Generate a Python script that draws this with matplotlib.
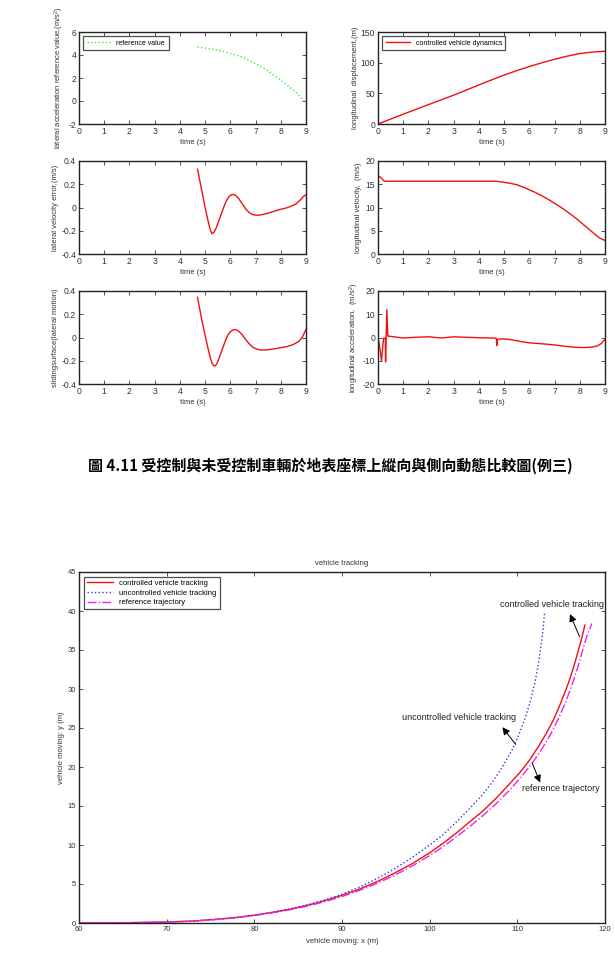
import numpy as np
import matplotlib
matplotlib.use('Agg')
import matplotlib.pyplot as plt

plt.rcParams['font.family'] = ['Liberation Sans', 'DejaVu Sans']
plt.rcParams['mathtext.default'] = 'regular'
plt.rcParams['axes.unicode_minus'] = False

# ---- data ----
t_ayref = [4.7, 5.0, 5.25, 5.5, 5.75, 6.0, 6.25, 6.5, 6.75, 7.0, 7.25, 7.5,
           7.75, 8.0, 8.25, 8.5, 8.75, 9.0]
ay_ref = [4.7, 4.6, 4.52, 4.42, 4.29, 4.13, 3.97, 3.78, 3.54, 3.26, 2.95, 2.6,
          2.22, 1.8, 1.39, 0.95, 0.4, -0.2]

t_xdisp = [0, 0.5, 1, 1.5, 2, 2.5, 3, 3.5, 4, 4.5, 5, 5.5, 6, 6.5, 7, 7.5, 8, 8.5, 9]
x_disp = [0, 8, 16, 23.8, 31.6, 39.3, 47, 55.3, 63.7, 71.8, 79.8, 87, 93.7,
          99.8, 105.5, 110.6, 114.8, 117.3, 118.6]

t_verr = [4.7, 4.8, 4.9, 5.0, 5.1, 5.2, 5.27, 5.35, 5.45, 5.55, 5.65, 5.75,
          5.85, 5.95, 6.05, 6.12, 6.2, 6.3, 6.45, 6.6, 6.75, 6.9, 7.05, 7.2,
          7.4, 7.6, 7.8, 8.0, 8.2, 8.4, 8.6, 8.8, 8.9, 9.0]
v_err = [0.33, 0.22, 0.11, 0.0, -0.1, -0.19, -0.225, -0.215, -0.17, -0.11,
         -0.05, 0.01, 0.06, 0.095, 0.11, 0.112, 0.105, 0.085, 0.04, -0.01,
         -0.045, -0.062, -0.067, -0.064, -0.055, -0.042, -0.028, -0.015,
         -0.005, 0.01, 0.03, 0.07, 0.095, 0.11]

t_vx = [0, 0.1, 0.2, 0.25, 0.3, 4.7, 5.0, 5.25, 5.5, 5.75, 6.0, 6.25, 6.5,
        6.75, 7.0, 7.25, 7.5, 7.75, 8.0, 8.25, 8.5, 8.65, 8.8, 9.0]
v_x = [16.8, 16.5, 15.9, 15.7, 15.64, 15.64, 15.4, 15.2, 14.9, 14.4, 13.8,
       13.2, 12.5, 11.75, 10.9, 10.05, 9.1, 8.1, 7.0, 5.85, 4.7, 4.0, 3.4, 2.9]

t_slide = [4.7, 4.8, 4.9, 5.0, 5.1, 5.2, 5.28, 5.35, 5.42, 5.5, 5.6, 5.7,
           5.8, 5.9, 6.0, 6.1, 6.2, 6.3, 6.45, 6.6, 6.75, 6.9, 7.05, 7.2,
           7.35, 7.5, 7.75, 8.0, 8.25, 8.5, 8.7, 8.85, 9.0]
s_slide = [0.345, 0.23, 0.12, 0.02, -0.08, -0.17, -0.225, -0.245, -0.24,
           -0.21, -0.15, -0.09, -0.03, 0.02, 0.05, 0.065, 0.068, 0.06, 0.03,
           -0.015, -0.055, -0.085, -0.1, -0.107, -0.108, -0.105, -0.097,
           -0.088, -0.078, -0.06, -0.035, 0.0, 0.07]

t_ax = [0, 0.05, 0.14, 0.22, 0.29, 0.30, 0.35, 0.39, 0.5, 1.0, 1.5, 2.0, 2.5,
        3.0, 3.5, 4.0, 4.5, 4.69, 4.71, 4.74, 4.8, 5.0, 5.25, 5.5, 5.75, 6.0,
        6.5, 7.0, 7.5, 7.75, 8.0, 8.25, 8.5, 8.7, 8.85, 9.0]
a_x = [0, -3, -10, -0.3, -0.3, -10.5, 12, 0.6, 0.5, -0.2, 0.1, 0.3, -0.2, 0.3,
       0.1, -0.1, -0.2, -0.3, -3.5, -0.9, -0.6, -0.6, -0.9, -1.4, -1.9, -2.3,
       -2.7, -3.2, -3.9, -4.15, -4.3, -4.3, -4.1, -3.6, -2.6, -0.8]

# trajectories (x, y) in ground coordinates
ctrl_x = [60, 65, 70, 73, 76, 78, 80, 82, 84, 86, 88, 90, 92, 94, 96, 98, 100,
          101.5, 103, 104.5, 106, 107.5, 109, 110.3, 111.4, 112.4, 113.3, 114.1,
          114.8, 115.4, 116.0, 116.6, 117.1, 117.5, 117.7]
ctrl_y = [0, 0.03, 0.12, 0.25, 0.5, 0.72, 1.0, 1.35, 1.75, 2.25, 2.85, 3.55,
          4.35, 5.3, 6.4, 7.6, 9.0, 10.2, 11.5, 12.9, 14.3, 15.9, 17.7, 19.3,
          20.9, 22.6, 24.3, 26.0, 27.8, 29.5, 31.3, 33.5, 35.5, 37.2, 38.2]
unc_x = [60, 65, 70, 73, 76, 78, 80, 82, 84, 86, 88, 90, 92, 94, 96, 98, 100,
         101.5, 103, 104.5, 106, 107.3, 108.4, 109.4, 110.2, 110.9, 111.5,
         112.0, 112.4, 112.7, 112.95, 113.1]
unc_y = [0, 0.03, 0.12, 0.25, 0.5, 0.72, 1.0, 1.37, 1.8, 2.32, 2.95, 3.7, 4.6,
         5.7, 6.95, 8.4, 10.0, 11.3, 12.9, 14.6, 16.4, 18.3, 20.2, 22.2, 24.2,
         26.3, 28.5, 30.8, 33.2, 35.5, 37.7, 39.8]
ref_x = [60, 65, 70, 73, 76, 78, 80, 82, 84, 86, 88, 90, 92, 94, 96, 98, 100,
         101.5, 103, 104.5, 106, 107.5, 109, 110.5, 111.7, 112.8, 113.8, 114.7,
         115.5, 116.2, 116.9, 117.5, 118.0, 118.5]
ref_y = [0, 0.03, 0.11, 0.23, 0.47, 0.68, 0.95, 1.3, 1.68, 2.15, 2.72, 3.4,
         4.18, 5.08, 6.12, 7.3, 8.65, 9.75, 11.0, 12.3, 13.7, 15.2, 16.9, 18.8,
         20.5, 22.3, 24.2, 26.2, 28.3, 30.4, 32.8, 35.2, 37.0, 38.4]

caption = '圖 4.11 受控制與未受控制車輛於地表座標上縱向與側向動態比較圖(例三)'

W, H = 615, 958
fig = plt.figure(figsize=(W / 100, H / 100), dpi=100)


def box(x0, y0, x1, y1):
    return [x0 / W, 1 - y1 / H, (x1 - x0) / W, (y1 - y0) / H]


def style(ax, fs=6.2):
    ax.tick_params(direction='in', top=True, right=True, length=3, width=0.6,
                   labelsize=fs, colors='#333333', pad=2)
    for s in ax.spines.values():
        s.set_linewidth(1.0)
        s.set_color('#222222')


lab = dict(fontsize=5.5, color='#333333')
red = '#ee1111'

# left column
ax1 = fig.add_axes(box(79, 32, 306, 124))
ax1.plot(t_ayref, ay_ref, ':', color='#33ee33', lw=1.0, label='reference value')
ax1.set_ylim(-2, 6)
ax1.set_yticks([-2, 0, 2, 4, 6])
ax1.set_ylabel('lateral acceleration reference value,(m/s$^2$)', labelpad=2, **lab)

ax3 = fig.add_axes(box(79, 161, 306, 254))
ax3.plot(t_verr, v_err, '-', color=red, lw=1.0)
ax3.set_ylim(-0.4, 0.4)
ax3.set_yticks([-0.4, -0.2, 0, 0.2, 0.4])
ax3.set_yticklabels(['-0.4', '-0.2', '0', '0.2', '0.4'])
ax3.set_ylabel('lateral velocity error,(m/s)', labelpad=1.5, **lab)

ax5 = fig.add_axes(box(79, 291, 306, 384))
ax5.plot(t_slide, s_slide, '-', color=red, lw=1.0)
ax5.set_ylim(-0.4, 0.4)
ax5.set_yticks([-0.4, -0.2, 0, 0.2, 0.4])
ax5.set_yticklabels(['-0.4', '-0.2', '0', '0.2', '0.4'])
ax5.set_ylabel('slidingsurface(lateral motion)', labelpad=1.5, **lab)

# right column
ax2 = fig.add_axes(box(378, 32, 605, 124))
ax2.plot(t_xdisp, x_disp, '-', color=red, lw=1.0, label='controlled vehicle dynamics')
ax2.set_ylim(0, 150)
ax2.set_yticks([0, 50, 100, 150])
ax2.set_ylabel('longitudinal  displacement,(m)', labelpad=1.5, **lab)

ax4 = fig.add_axes(box(378, 161, 605, 254))
ax4.plot(t_vx, v_x, '-', color=red, lw=1.0)
ax4.set_ylim(0, 20)
ax4.set_yticks([0, 5, 10, 15, 20])
ax4.set_ylabel('longitudinal velocity,  (m/s)', labelpad=2.5, **lab)

ax6 = fig.add_axes(box(378, 291, 605, 384))
ax6.plot(t_ax, a_x, '-', color=red, lw=1.0)
ax6.set_ylim(-20, 20)
ax6.set_yticks([-20, -10, 0, 10, 20])
ax6.set_ylabel('longitudinal acceleration,  (m/s$^2$)', labelpad=1.5, **lab)

for ax in [ax1, ax2, ax3, ax4, ax5, ax6]:
    ax.set_xlim(0, 9)
    ax.set_xticks(range(10))
    ax.set_xlabel('time (s)', labelpad=2, **lab)
    style(ax)

for ax in [ax1, ax2]:
    leg = ax.legend(loc='upper left', fontsize=5, frameon=True, fancybox=False,
                    handlelength=3.5, borderpad=0.5, borderaxespad=0.6)
    leg.get_frame().set_edgecolor('#222222')
    leg.get_frame().set_linewidth(0.9)

# caption
fig.text(330 / W, 1 - 466 / H, caption, ha='center', va='center', fontsize=10.8,
         fontweight='bold', family=['Noto Sans CJK TC', 'DejaVu Sans'])

# trajectory plot
axb = fig.add_axes(box(79, 572, 605, 923))
axb.plot(ctrl_x, ctrl_y, '-', color=red, lw=1.0, label='controlled vehicle tracking')
axb.plot(unc_x, unc_y, ':', color='#3333ee', lw=1.0, label='uncontrolled vehicle tracking')
axb.plot(ref_x, ref_y, '-.', color='#ee22ee', lw=1.0, label='reference trajectory')
axb.set_xlim(60, 120)
axb.set_ylim(0, 45)
axb.set_xticks(range(60, 121, 10))
axb.set_yticks(range(0, 46, 5))
style(axb, fs=5.5)
axb.set_xlabel('vehicle moving: x (m)', labelpad=4, **lab)
axb.set_ylabel('vehicle moving: y (m)', labelpad=2, **lab)
axb.set_title('vehicle tracking', pad=5, **lab)
leg = axb.legend(loc='upper left', fontsize=5.5, frameon=True, fancybox=False,
                 handlelength=3.5, borderpad=0.4, borderaxespad=0.6, labelspacing=0.3)
leg.get_frame().set_edgecolor('#222222')
leg.get_frame().set_linewidth(0.9)

arrow = dict(arrowstyle='-|>', color='black', lw=0.7, mutation_scale=11,
             shrinkA=0, shrinkB=0)
note = dict(fontsize=6.5, color='#222222', ha='center', va='center')
axb.text(114.0, 40.8, 'controlled vehicle tracking', **note)
axb.annotate('', xy=(116.0, 39.6), xytext=(117.1, 36.7), arrowprops=arrow)
axb.text(103.3, 26.3, 'uncontrolled vehicle tracking', **note)
axb.annotate('', xy=(108.3, 25.1), xytext=(109.8, 22.9), arrowprops=arrow)
axb.text(115.0, 17.2, 'reference trajectory', **note)
axb.annotate('', xy=(112.6, 18.0), xytext=(111.7, 20.5), arrowprops=arrow)

fig.savefig('out.png', dpi=100)
